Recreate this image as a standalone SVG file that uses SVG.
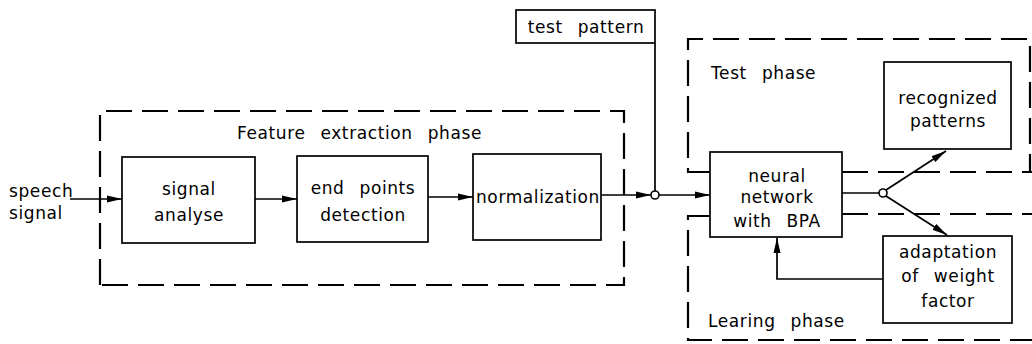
<svg xmlns="http://www.w3.org/2000/svg" width="1032" height="344" viewBox="0 0 1032 344">
<defs>
<marker id="arr" markerWidth="15" markerHeight="8" refX="15" refY="4" orient="auto" markerUnits="userSpaceOnUse">
<path d="M0,0.5 L15,4 L0,7.5 Z" fill="#000"/>
</marker>
<style>
.box{fill:#fff;stroke:#000;stroke-width:1.7}
.dash{fill:none;stroke:#000;stroke-width:2.2;stroke-dasharray:26 10}
.line{fill:none;stroke:#000;stroke-width:1.7}
.junc{fill:#fff;stroke:#000;stroke-width:1.6}
text{font-family:"DejaVu Sans","Liberation Sans",sans-serif;font-size:17px;letter-spacing:0.6px;word-spacing:9px;fill:#000}
.c{text-anchor:middle}
</style>
</defs>
<rect width="1032" height="344" fill="#fff"/>
<g id="phases">
<path class="dash" d="M100,285 V111 H624 V285 Z"/>
<text x="237" y="139">Feature extraction phase</text>
<path class="dash" d="M710,172 H688 V39 H1030 V172"/>
<path class="dash" d="M842,172 H1032"/>
<text x="711" y="79">Test phase</text>
<path class="dash" d="M710,216 H688 V340 H1032"/>
<path class="dash" d="M842,214 H1032"/>
<text x="708" y="327">Learing phase</text>
</g>
<g id="connectors">
<line class="line" x1="70" y1="199" x2="122" y2="199" marker-end="url(#arr)"/>
<line class="line" x1="255" y1="199" x2="297" y2="199" marker-end="url(#arr)"/>
<line class="line" x1="428" y1="197" x2="473" y2="197" marker-end="url(#arr)"/>
<line class="line" x1="601" y1="195" x2="651" y2="195" marker-end="url(#arr)"/>
<line class="line" x1="655" y1="43" x2="655" y2="191"/>
<line class="line" x1="659" y1="195" x2="710" y2="195" marker-end="url(#arr)"/>
<line class="line" x1="842" y1="193" x2="879" y2="193"/>
<line class="line" x1="886" y1="190" x2="946" y2="151" marker-end="url(#arr)"/>
<line class="line" x1="886" y1="196" x2="947" y2="235" marker-end="url(#arr)"/>
<path class="line" d="M883,279 H777 V238" marker-end="url(#arr)"/>
<circle class="junc" cx="655" cy="195" r="4"/>
<circle class="junc" cx="883" cy="193" r="4"/>
</g>
<g id="speech">
<text x="9" y="197">speech</text>
<text x="9" y="219">signal</text>
</g>
<g id="signal-analyse">
<rect class="box" x="122" y="157" width="133" height="86"/>
<text class="c" x="189" y="195">signal</text>
<text class="c" x="189" y="221">analyse</text>
</g>
<g id="end-points">
<rect class="box" x="297" y="156" width="131" height="86"/>
<text class="c" x="363" y="194">end points</text>
<text class="c" x="363" y="221">detection</text>
</g>
<g id="normalization">
<rect class="box" x="473" y="154" width="128" height="86"/>
<text class="c" x="538" y="203">normalization</text>
</g>
<g id="test-pattern">
<rect class="box" x="516" y="10" width="139" height="33"/>
<text class="c" x="586" y="33">test pattern</text>
</g>
<g id="neural-network">
<rect class="box" x="710" y="152" width="132" height="85"/>
<text class="c" x="777" y="182">neural</text>
<text class="c" x="777" y="203">network</text>
<text class="c" x="777" y="227">with BPA</text>
</g>
<g id="recognized">
<rect class="box" x="884" y="62" width="127" height="87"/>
<text class="c" x="948" y="104">recognized</text>
<text class="c" x="948" y="127">patterns</text>
</g>
<g id="adaptation">
<rect class="box" x="883" y="236" width="129" height="87"/>
<text class="c" x="948" y="258">adaptation</text>
<text class="c" x="948" y="282">of weight</text>
<text class="c" x="948" y="307">factor</text>
</g>
</svg>
